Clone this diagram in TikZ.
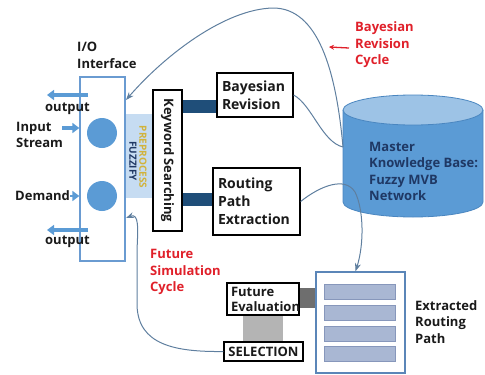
\documentclass[tikz,border=0pt]{standalone}
\usepackage{fontspec}
\setmainfont{Open Sans}
\usetikzlibrary{arrows.meta,calc,backgrounds}
\definecolor{ioborder}{HTML}{6A9BD1}
\definecolor{circblue}{HTML}{5B9BD5}
\definecolor{arrowblue}{HTML}{5B9BD5}
\definecolor{prefill}{HTML}{C6DCF2}
\definecolor{navybar}{HTML}{1F4E79}
\definecolor{curvecol}{HTML}{5F7F9F}
\definecolor{redtxt}{HTML}{E0202A}
\definecolor{ink}{HTML}{1A1A1A}
\definecolor{kbtext}{HTML}{1F3864}
\definecolor{extborder}{HTML}{5B86B8}
\definecolor{barfill}{HTML}{A9B7D3}
\definecolor{barborder}{HTML}{8797BB}
\definecolor{dgray}{HTML}{6E6E6E}
\definecolor{lgray}{HTML}{B4B4B4}
\definecolor{goldtxt}{HTML}{D1B33C}
\definecolor{cylbody}{HTML}{5B9BD5}
\definecolor{cyledge}{HTML}{4A86C0}
\definecolor{cyltop}{HTML}{9DC3E6}
\tikzset{
  txt/.style={font=\bfseries\fontsize{13}{16.5}\selectfont, text=ink, align=left, inner sep=0pt},
  redlbl/.style={txt, text=redtxt},
  boxnode/.style={draw=black, line width=1.3pt, fill=white, font=\bfseries\fontsize{14}{18}\selectfont, text=ink, align=left, inner ysep=0pt, inner xsep=5pt},
  smallbox/.style={boxnode, font=\bfseries\fontsize{13}{15}\selectfont, inner xsep=4pt},
  bluearr/.style={draw=arrowblue, line width=3.5pt, -{Triangle[length=7pt,width=10pt]}},
  cyclecurve/.style={draw=curvecol, line width=1pt},
  cyclearr/.style={cyclecurve, -{Stealth[length=8pt,width=6pt]}},
  navyconn/.style={draw=navybar, line width=13pt},
  pathbar/.style={draw=barborder, fill=barfill, line width=0.8pt, minimum width=71pt, minimum height=15pt, inner sep=0pt},
}
\begin{document}
\begin{tikzpicture}[x=1pt,y=-1pt]
\useasboundingbox (0,0) rectangle (485,375);

% I/O interface
\node[txt, anchor=west] (iolbl) at (77,55.5) {I/O\\Interface};
\node[fill=prefill, minimum width=28pt, minimum height=84pt, inner sep=0pt] (pre) at (139,156) {};
\node[draw=ioborder, line width=1.3pt, fill=white, minimum width=45pt, minimum height=184pt, inner sep=0pt] (io) at (102.5,169) {};
\node[circle, fill=circblue, minimum size=30pt, inner sep=0pt] (c1) at (102,133) {};
\node[circle, fill=circblue, minimum size=30pt, inner sep=0pt] (c2) at (102,196) {};
\node[rotate=-90, font=\bfseries\fontsize{10}{11}\selectfont, text=goldtxt, inner sep=0pt] (pp) at (143,157) {PREPROCESS};
\node[rotate=-90, font=\bfseries\fontsize{10}{11}\selectfont, text=kbtext, inner sep=0pt] (fz) at (133,161) {FUZZIFY};

% left labels and arrows
\node[txt, anchor=center] (out1) at (67.5,109) {output};
\node[txt, anchor=west] (inlbl) at (16,135) {Input\\Stream};
\node[txt, anchor=west] (demlbl) at (15,196) {Demand};
\node[txt, anchor=center] (out2) at (67.5,242) {output};
\coordinate (o1s) at (88,95);
\coordinate (o1e) at (47,95);
\coordinate (ins) at (62,128);
\coordinate (o2s) at (88,230);
\coordinate (o2e) at (47,230);
\draw[bluearr] (o1s) -- (o1e);
\draw[bluearr] (ins) -- (io.west |- ins);
\draw[bluearr, line width=2.5pt] (demlbl.east) -- (io.west |- demlbl.east);
\draw[bluearr] (o2s) -- (o2e);

% keyword searching
\node[draw=black, line width=1.3pt, fill=white, minimum width=29pt, minimum height=141pt, inner sep=0pt] (kw) at (167.5,160.5) {};
\node[rotate=-90, font=\bfseries\fontsize{13}{15}\selectfont, text=ink, inner sep=0pt] (kwt) at (kw.center) {Keyword Searching};

% boxes
\node[boxnode, text width=66pt, minimum height=44pt] (bay) at (255,95) {Bayesian\\Revision};
\node[boxnode, text width=77pt, minimum height=67pt] (rpe) at (256.5,201.5) {Routing\\Path\\Extraction};
\node[smallbox, text width=64pt, minimum height=32pt] (fe) at (263,299) {Future\\Evaluation};
\node[smallbox, align=center, minimum width=79pt, minimum height=19pt, inner xsep=0pt] (sel) at (263.5,351.5) {SELECTION};

% extracted routing path
\node[draw=extborder, line width=1.5pt, fill=white, minimum width=89pt, minimum height=101pt, inner sep=0pt] (ext) at (360.5,322.5) {};
\node[pathbar] (b1) at (359.5,292) {};
\node[pathbar] (b2) at (359.5,313) {};
\node[pathbar] (b3) at (359.5,333.5) {};
\node[pathbar] (b4) at (359.5,354) {};
\node[txt, anchor=west] (extlbl) at (415,322) {Extracted\\Routing\\Path};

% connectors (behind boxes)
\begin{scope}[on background layer]
\draw[navyconn] (kw.east |- 0,106.5) -- (bay.west |- 0,106.5);
\draw[navyconn] (kw.east |- 0,199) -- (rpe.west |- 0,199);
\draw[draw=dgray, line width=20pt] (fe.east |- 0,298) -- (ext.west |- 0,298);
\draw[draw=lgray, line width=40pt] (fe.south) -- (fe.south |- sel.north);
\end{scope}

% knowledge base cylinder
\fill[cylbody] (343,110) -- (343,202) arc[start angle=180, end angle=360, x radius=70pt, y radius=15pt] -- (483,110) -- cycle;
\draw[cyledge, line width=0.8pt] (343,110) -- (343,202) arc[start angle=180, end angle=360, x radius=70pt, y radius=15pt] -- (483,110);
\draw[cyledge, fill=cyltop, line width=0.8pt] (413,110) ellipse [x radius=70pt, y radius=15pt];
\node[txt, text=kbtext, anchor=west] (kb) at (369,171.5) {Master\\Knowledge Base:\\Fuzzy MVB\\Network};
\coordinate (kbA) at (343,147);
\coordinate (kbB) at (355,192);

% cycles
\node[redlbl, anchor=west] (bcyc) at (355,45) {Bayesian\\Revision\\Cycle};
\node[redlbl, anchor=west] (fcyc) at (150,272) {Future\\Simulation\\Cycle};
\coordinate (redS) at (349,48);
\coordinate (redE) at (329,47);
\draw[draw=redtxt, line width=1.3pt, -{Stealth[length=5pt,width=5pt]}] (redS) -- (redE);

\coordinate (ioA) at (126,100);
\draw[cyclearr] (kbA) .. controls (336,70) and (318,8) .. (273,8) .. controls (225,9) and (165,55) .. (ioA);
\draw[cyclecurve] (bay.east) .. controls (312,105) and (322,142) .. (kbA);
\draw[cyclearr] (rpe.east) .. controls (320,186) and (345,176) .. (kbB) .. controls (364,210) and (364,245) .. ($(ext.north)+(-5,0)$);
\coordinate (ioB) at (126,218);
\coordinate (fsA) at (137,305);
\draw[cyclearr] (sel.west) .. controls (175,352) and (138,345) .. (fsA) -- (137,250) .. controls (138,228) and (139,213) .. (ioB);
\end{tikzpicture}
\end{document}
